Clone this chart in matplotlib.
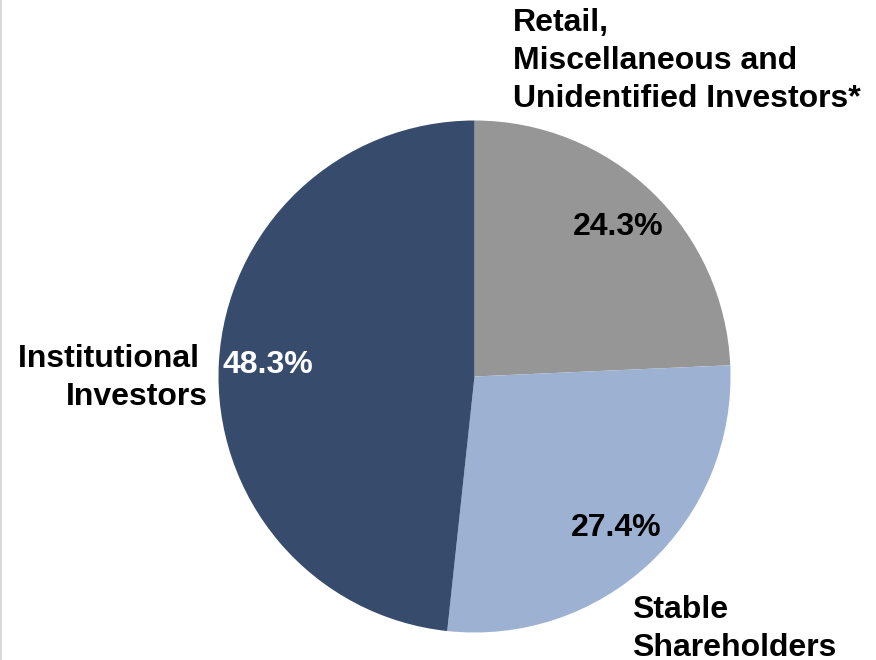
import matplotlib.pyplot as plt
from matplotlib.lines import Line2D

plt.rcParams['font.family'] = ['Liberation Sans', 'DejaVu Sans']

labels = ['Retail,\nMiscellaneous and\nUnidentified Investors*', 'Stable\nShareholders', 'Institutional \nInvestors']
shares = [24.3, 27.4, 48.3]
colors = ['#969696', '#9db1d2', '#374c6c']
pct_colors = ['black', 'black', 'white']

fig = plt.figure(figsize=(8.76, 6.6), dpi=100, facecolor='white')
ax = fig.add_axes([(474.5 - 256) / 876, (283.5 - 256) / 660, 512 / 876, 512 / 660])

wedges, texts, autotexts = ax.pie(shares, colors=colors, startangle=90, counterclock=False,
                                  radius=1, autopct='%.1f%%', pctdistance=0.81,
                                  wedgeprops=dict(linewidth=0))
for t, c in zip(autotexts, pct_colors):
    t.set_color(c)
    t.set_fontsize(23)
    t.set_fontweight('bold')

ax.set_xlim(-1, 1)
ax.set_ylim(-1, 1)
ax.set_aspect('equal')
ax.axis('off')

# category labels
kw = dict(fontsize=23, fontweight='bold', linespacing=1.36, va='center')
ax.text(0.150, 1.232, labels[0], ha='left', **kw)
ax.text(0.615, -0.985, labels[1], ha='left', **kw)
ax.text(-1.043, -0.005, labels[2], ha='right', multialignment='right', **kw)

# thin border on the left edge
fig.add_artist(Line2D([0.001, 0.001], [0, 1], color='#d9d9d9', lw=1.5, transform=fig.transFigure))

fig.savefig('out.png', dpi=100)
